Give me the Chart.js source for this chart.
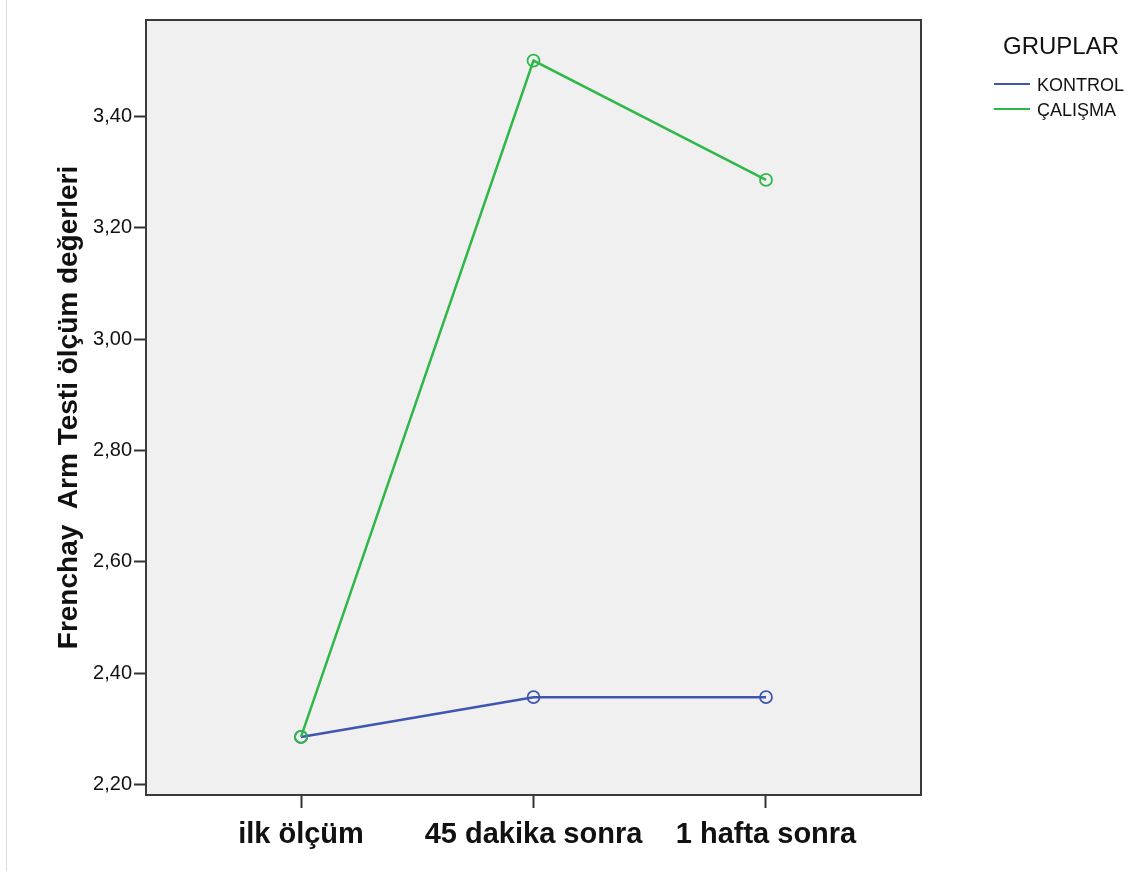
<!DOCTYPE html>
<html>
<head>
<meta charset="utf-8">
<script src="https://cdn.jsdelivr.net/npm/chart.js@4.4.1/dist/chart.umd.min.js"></script>
<style>
  html, body { margin: 0; padding: 0; background: #ffffff; }
  #wrap { position: relative; width: 1136px; height: 871px; overflow: hidden; }
  #edge { position: absolute; left: 6px; top: 0; width: 1px; height: 871px; background: #dcdcdc; }
  #legend { position: absolute; left: 994px; top: 32px; font-family: "Liberation Sans", Arial, sans-serif; color: #111; }
  #legend .title { position: absolute; left: 9px; top: 0; font-size: 24px; white-space: nowrap; }
  #legend .item { position: absolute; left: 0; white-space: nowrap; font-size: 18px; }
  #legend .swatch { position: absolute; left: 0; width: 36px; height: 2px; }
  #legend .lbl { position: absolute; left: 43px; top: 4px; }
</style>
</head>
<body>
<div id="wrap">
  <canvas id="c" width="1136" height="871"></canvas>
  <div id="edge"></div>
  <div id="legend"></div>
</div>
<script>
const categories = ["ilk ölçüm", "45 dakika sonra", "1 hafta sonra"];
const seriesNames = ["KONTROL", "ÇALIŞMA"];
const kontrol = [2.2857, 2.3571, 2.3571];
const calisma = [2.2857, 3.5, 3.2857];
const yTicks = [2.2, 2.4, 2.6, 2.8, 3.0, 3.2, 3.4];
const colors = ["#3f56b0", "#2fb84a"];
const legendTitle = "GRUPLAR";
const yTitle = "Frenchay  Arm Testi ölçüm değerleri";

const FONT = "'Liberation Sans', Arial, sans-serif";

function toPoints(arr) { return arr.map((v, i) => ({ x: i, y: v })); }

const boxPlugin = {
  id: 'box',
  beforeDraw(chart) {
    const { ctx, chartArea: a } = chart;
    ctx.save();
    ctx.fillStyle = '#f0f0f0';
    ctx.fillRect(a.left, a.top, a.right - a.left, a.bottom - a.top);
    ctx.restore();
  },
  afterDraw(chart) {
    const { ctx, chartArea: a } = chart;
    ctx.save();
    ctx.strokeStyle = '#3a3a3a';
    ctx.lineWidth = 2;
    ctx.strokeRect(a.left, a.top, a.right - a.left, a.bottom - a.top);
    ctx.restore();
  }
};

function ds(name, arr, color, order) {
  return { label: name, data: toPoints(arr), borderColor: color, backgroundColor: 'transparent', order: order,
    borderWidth: 2.5, pointRadius: 6, pointBorderWidth: 1.8, pointBackgroundColor: 'rgba(0,0,0,0)',
    pointBorderColor: color, tension: 0 };
}

new Chart(document.getElementById('c'), {
  type: 'line',
  data: {
    datasets: [
      ds(seriesNames[0], kontrol, colors[0], 1),
      ds(seriesNames[1], calisma, colors[1], 0)
    ]
  },
  options: {
    responsive: false,
    animation: false,
    events: [],
    layout: { padding: { left: 0, top: 20, right: 215, bottom: 0 } },
    plugins: { legend: { display: false }, tooltip: { enabled: false } },
    scales: {
      x: {
        type: 'linear',
        min: -0.6667,
        max: 2.6667,
        afterBuildTicks(scale) { scale.ticks = categories.map((c, i) => ({ value: i })); },
        afterFit(scale) { scale.height = 76; },
        ticks: {
          callback: (v) => categories[v],
          font: { family: FONT, size: 29, weight: 'bold' },
          color: '#111',
          padding: 10,
          maxRotation: 0,
          autoSkip: false
        },
        grid: { display: true, drawOnChartArea: false, drawTicks: true, tickLength: 13, tickColor: '#333', tickWidth: 2 },
        border: { display: false }
      },
      y: {
        type: 'linear',
        min: 2.1815,
        max: 3.5729,
        afterBuildTicks(scale) { scale.ticks = yTicks.map(v => ({ value: v })); },
        afterFit(scale) { scale.width = 146; },
        ticks: {
          callback: (v) => v.toFixed(2).replace('.', ','),
          font: { family: FONT, size: 20 },
          color: '#111',
          padding: 2
        },
        grid: { display: true, drawOnChartArea: false, drawTicks: true, tickLength: 12, tickColor: '#333', tickWidth: 2 },
        border: { display: false },
        title: {
          display: true,
          text: yTitle,
          font: { family: FONT, size: 28, weight: 'bold' },
          color: '#111',
          padding: { top: 52, bottom: 0 }
        }
      }
    }
  },
  plugins: [boxPlugin]
});

// HTML legend built from series arrays
const leg = document.getElementById('legend');
const t = document.createElement('div');
t.className = 'title';
t.textContent = legendTitle;
leg.appendChild(t);
seriesNames.forEach((name, i) => {
  const item = document.createElement('div');
  item.className = 'item';
  item.style.top = (39 + i * 25) + 'px';
  const sw = document.createElement('div');
  sw.className = 'swatch';
  sw.style.background = colors[i];
  sw.style.top = '12px';
  const lb = document.createElement('div');
  lb.className = 'lbl';
  lb.textContent = name;
  item.appendChild(sw);
  item.appendChild(lb);
  leg.appendChild(item);
});
</script>
</body>
</html>
